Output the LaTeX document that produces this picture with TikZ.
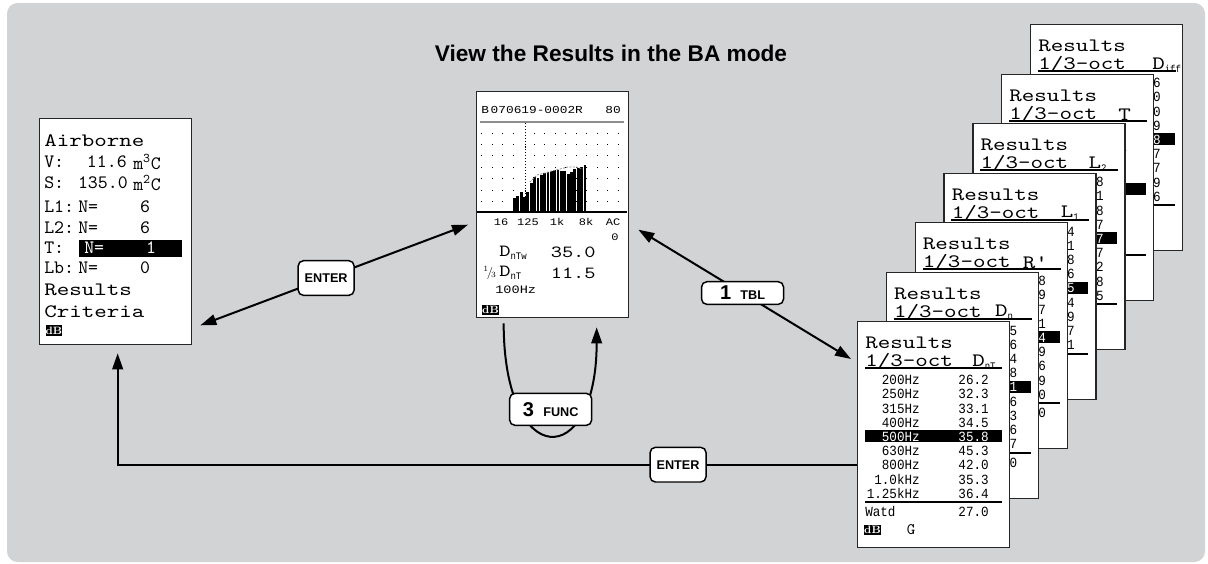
\documentclass[tikz,border=0pt]{standalone}
\usepackage{fontspec}
\setsansfont{Liberation Sans}
\newfontfamily\lcdfont{lmmono10-regular.otf}[FakeStretch=1.26]
\newfontfamily\lcdtt{lmmono10-regular.otf}
\newfontfamily\lcdnum{Liberation Mono}[FakeStretch=0.9]
\newfontfamily\lcdwide{Liberation Mono}[FakeStretch=1.2]
\newcommand\lcdsub[1]{\textsubscript{\lcdnum\fontsize{7.5}{7.5}\selectfont #1}}
\usetikzlibrary{arrows.meta,positioning,calc}
\definecolor{panel}{RGB}{210,211,213}
\definecolor{lcdgrey}{RGB}{140,140,140}
\tikzset{
  screen/.style={draw=black!85, line width=1pt, fill=white, anchor=north west,
                 minimum width=114pt, minimum height=169.5pt, inner sep=0pt},
  lcdbig/.style={font=\lcdfont\fontsize{14.2}{14.2}\selectfont, inner sep=0pt, anchor=west},
  lcdrow/.style={font=\lcdtt\fontsize{14.2}{14.2}\selectfont, inner sep=0pt, anchor=west},
  lcdsmall/.style={font=\lcdnum\fontsize{10.5}{10.5}\selectfont, inner sep=0pt},
  lcdtiny/.style={font=\lcdwide\fontsize{7.5}{7.5}\selectfont, inner sep=0pt},
  lcdval/.style={font=\lcdfont\fontsize{12.75}{13}\selectfont, inner sep=0pt},
  dbicon/.style={fill=black, text=white, inner sep=0pt, minimum width=12pt, minimum height=8pt,
                 font=\rmfamily\bfseries\fontsize{8}{8}\selectfont},
  keycap/.style={draw=black, fill=white, line width=1.1pt, rounded corners=4pt, inner sep=0pt,
                 font=\sffamily\bfseries\fontsize{9.5}{10}\selectfont},
  link/.style={line width=1.5pt, black},
  arrowto/.style={-{Triangle[length=12pt,width=8pt]}},
  twoway/.style={{Triangle[length=12pt,width=8pt]}-{Triangle[length=12pt,width=8pt]}},
}

\begin{document}
\begin{tikzpicture}[x=0.75pt,y=-0.75pt]
  \useasboundingbox (0,0) rectangle (1208,564);
  \fill[panel, rounded corners=8pt] (7,3) rectangle (1205,562);
  \node[font=\sffamily\bfseries\fontsize{17}{20}\selectfont, inner sep=0pt] (title) at (611,53)
    {View the Results in the BA mode};

  % Airborne menu
  \node[screen] (airb) at (39,118) {};
  \node[lcdbig] (airb-head) at (44,141) {Airborne};
  \node[lcdrow] (airb-v) at (44,162) {V:};
  \node[lcdrow, anchor=east] (airb-vn) at (127,162) {11.6};
  \node[lcdrow] (airb-vu) at (133,162) {m\textsuperscript{3}C};
  \node[lcdrow] (airb-s) at (44,183) {S:};
  \node[lcdrow, anchor=east] (airb-sn) at (128,183) {135.0};
  \node[lcdrow] (airb-su) at (133,183) {m\textsuperscript{2}C};
  \fill (79,239.5) rectangle (182,257);
  \foreach \lab/\y/\nx/\cx/\n/\tc in {L1/207/78/145/6/black, L2/227.5/78/145/6/black,
        T/248/84/151/1/white, Lb/268/78/145/0/black} {
    \node[lcdrow] (airb-\lab) at (44,\y) {\lab:};
    \node[lcdrow, text=\tc] (airb-\lab-n) at (\nx,\y) {N=};
    \node[lcdrow, anchor=center, text=\tc] (airb-\lab-v) at (\cx,\y) {\n};
  }
  \node[lcdbig] (airb-res) at (44,290) {Results};
  \node[lcdbig] (airb-crit) at (44,312) {Criteria};
  \node[dbicon] (airb-db) at (54,330.5) {dB};

  % spectrum screen
  \node[screen] (spec) at (476,91) {};
  \node[lcdtiny, anchor=west, font=\lcdwide\fontsize{8}{8}\selectfont] (spec-id) at (481,110) {B\,070619-0002R};
  \node[lcdtiny, anchor=east, font=\lcdwide\fontsize{8}{8}\selectfont] (spec-range) at (621,110) {80};
  \draw[lcdgrey, line width=1.5pt] (480,122) -- (624,122);
  \foreach \r in {0,...,6}
    \foreach \c in {0,1,2,3,5,6,7,8,9,10,11,12,13}
      \fill (481+\c*10.5,132.5+\r*11.4) rectangle ++(1.1,1.1);
  \draw[line width=0.6pt, dash pattern=on 0.8pt off 1.4pt] (525,123) -- (525,212);
  \foreach \h [count=\i from 0] in {198,196,192,197,192,183,177,178,175,173,172,171,170,170,171,171,174,172,169,168,167,165}
    \fill (513+\i*3.36,212) rectangle (515.8+\i*3.36,\h);
  \draw[lcdgrey, line width=0.6pt, dash pattern=on 1.5pt off 1pt]
    (530,182) -- (537,175) -- (545,173) -- (552,171) -- (560,169) -- (568,167) -- (576,167) -- (583,169);
  \draw[line width=1pt] (477,212) -- (627,212);
  \foreach \t/\x [count=\i] in {16/501,125/528,1k/557,8k/586,AC/613}
    \node[lcdtiny] (spec-ax\i) at (\x,222) {\t};
  \node[lcdtiny] (spec-ac) at (615,237) {0};
  \node[lcdval, anchor=west] (spec-dw) at (499,253) {D\lcdsub{nTw}};
  \node[lcdval, anchor=east] (spec-dwv) at (596,252) {35.0};
  \node[inner sep=0pt, font=\small] (spec-third) at (490,273) {${}^1\!/\!{}_3$};
  \node[lcdval, anchor=west] (spec-dt) at (499,273) {D\lcdsub{nT}};
  \node[lcdval, anchor=east] (spec-dtv) at (596,273) {11.5};
  \node[lcdtiny, anchor=west, font=\lcdwide\fontsize{8.5}{8.5}\selectfont] (spec-f) at (495,290) {100Hz};
  \node[dbicon] (spec-db) at (490.5,310) {dB};

  % stack of result tables, back to front
  \foreach \k/\sym/\sx/\dc/\dg/\wv in {
      7/{D\lcdsub{iff}}/122/25/{6,0,0,9,8,7,7,9,6}/{},
      6/T/117/30/{9,1,2,6,0,8,7,9,8}/{},
      5/{L\lcdsub{2}}/116/24.5/{8,1,8,7,7,7,2,8,5}/{},
      4/{L\lcdsub{1}}/117/24.5/{4,1,8,6,5,4,9,7,1}/{},
      3/{R'}/108/24.5/{8,9,7,1,4,9,6,9,0}/0,
      2/{D\lcdsub{n}}/109/24.5/{5,6,4,8,1,6,3,6,7}/0} {
    \pgfmathsetmacro\lx{857+28.83*(\k-1)}
    \pgfmathsetmacro\ty{321-49.5*(\k-1)}
    \node[screen] (res\k) at (\lx,\ty) {};
    \node[lcdbig] (res\k-a) at (\lx+8,\ty+22) {Results};
    \node[lcdbig] (res\k-b) at (\lx+8,\ty+40) {1/3-oct};
    \node[lcdbig] (res\k-c) at (\lx+\sx,\ty+41) {\sym};
    \draw[line width=1.5pt] (\lx+8,\ty+47) -- (\lx+146,\ty+47);
    \fill (\lx+8,\ty+109) rectangle (\lx+145,\ty+121);
    \foreach \d [count=\i from 0] in \dg {
      \ifnum\i=4 \def\tc{white}\else\def\tc{black}\fi
      \node[lcdsmall, text=\tc] (res\k-d\i) at (\lx+152-\dc,\ty+59+14.2*\i) {\d};
    }
    \draw[line width=1.5pt] (\lx+8,\ty+181) -- (\lx+145,\ty+181);
    \node[lcdsmall] (res\k-w) at (\lx+152-\dc,\ty+191) {\wv};
  }

  % front table
  \node[screen] (res1) at (857,321) {};
  \node[lcdbig] (res1-a) at (865,343) {Results};
  \node[lcdbig] (res1-b) at (865,361) {1/3-oct};
  \node[lcdbig] (res1-c) at (972,362) {D\lcdsub{nT}};
  \draw[line width=1.5pt] (865,368) -- (1002,368);
  \fill (865,430) rectangle (1002,442);
  \foreach \f/\v [count=\i from 0] in {200Hz/26.2, 250Hz/32.3, 315Hz/33.1, 400Hz/34.5, 500Hz/35.8,
        630Hz/45.3, 800Hz/42.0, 1.0kHz/35.3, 1.25kHz/36.4} {
    \ifnum\i=4 \def\tc{white}\else\def\tc{black}\fi
    \node[lcdsmall, anchor=east, text=\tc] (res1-f\i) at (920,380+14.2*\i) {\f};
    \node[lcdsmall, anchor=east, text=\tc] (res1-v\i) at (989,380+14.2*\i) {\v};
  }
  \draw[line width=1.5pt] (865,502) -- (1002,502);
  \node[lcdsmall, anchor=west] (res1-w) at (865,512) {Watd};
  \node[lcdsmall, anchor=east] (res1-wv) at (989,512) {27.0};
  \node[dbicon] (res1-db) at (872.5,530) {dB};
  \node[inner sep=0pt, font=\lcdtt\fontsize{12}{12}\selectfont] (res1-g) at (911,530) {G};

  % key presses
  \coordinate (ea-l) at ($(airb.south east)+(8,-20)$);
  \coordinate (ea-r) at ($(spec.west)+(-8,20)$);
  \draw[link,twoway] (ea-l) -- node[keycap, pos=0.47, minimum width=42pt, minimum height=26pt] (enterA) {ENTER} (ea-r);

  \coordinate (tb-l) at ($(spec.east)+(9,25)$);
  \coordinate (tb-r) at ($(res1.north west)+(-6,38)$);
  \draw[link,twoway] (tb-l) -- node[keycap, pos=0.49, minimum width=61.5pt, minimum height=17pt] (tbl)
    {{\fontsize{15}{15}\selectfont 1}\hspace{7pt}TBL} (tb-r);

  \coordinate (fn-l) at ($(spec.south)+(-49,5)$);
  \coordinate (fn-r) at ($(spec.south)+(44,9)$);
  \draw[link,arrowto] (fn-l) .. controls +(0,148) and +(0,144) .. (fn-r);
  \node[keycap, minimum width=61.5pt, minimum height=24pt] (func) at ($(spec.south)+(-2,91)$)
    {{\fontsize{15}{15}\selectfont 3}\hspace{7pt}FUNC};

  \coordinate (eb-r) at ($(res1.west)+(0,30)$);
  \coordinate (eb-l) at ($(airb.south)+(2,8)$);
  \draw[link,arrowto] (eb-r) -- node[keycap, pos=0.242, minimum width=42pt, minimum height=26pt] (enterB) {ENTER}
    (eb-r -| eb-l) -- (eb-l);
\end{tikzpicture}
\end{document}
